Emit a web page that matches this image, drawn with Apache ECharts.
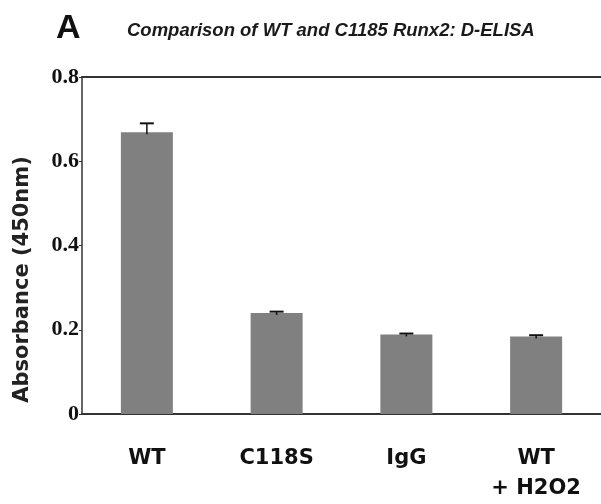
<!DOCTYPE html>
<html>
<head>
<meta charset="utf-8">
<script src="https://cdn.jsdelivr.net/npm/echarts@6/dist/echarts.min.js"></script>
<style>
  html, body, #main { margin: 0; padding: 0; width: 601px; height: 504px; overflow: hidden; background: #fff; }
</style>
</head>
<body>
<div id="main"></div>
<script>
// 数据
const categories = ["WT", "C118S", "IgG", "WT\n+ H2O2"];
const values = [0.669, 0.240, 0.189, 0.184];
const errors = [0.021, 0.003, 0.002, 0.003];
const yTicks = [0, 0.2, 0.4, 0.6, 0.8];

let myChart = echarts.init(document.getElementById("main"));

myChart.setOption({
  animation: false,
  backgroundColor: "#fff",
  graphic: [
    {
      type: "text", left: 56, top: 12,
      style: { text: "A", font: "bold 34px 'Liberation Sans', Arial", fill: "#111" }
    },
    {
      type: "text", left: 127, top: 21,
      style: { text: "Comparison of WT and C1185 Runx2: D-ELISA", font: "italic bold 18.5px 'Liberation Sans', Arial", fill: "#1a1a1a" }
    }
  ],
  grid: { left: 82, top: 77, width: 524, height: 340 },
  xAxis: [
    {
      type: "category",
      data: categories,
      axisLine: { lineStyle: { color: "#333", width: 2 } },
      axisTick: { show: false },
      axisLabel: {
        margin: 30,
        lineHeight: 30,
        color: "#111",
        fontFamily: "DejaVu Sans",
        fontWeight: "bold",
        fontSize: 21
      }
    },
    {
      // 顶部的横线
      type: "category",
      position: "top",
      data: categories,
      axisLine: { lineStyle: { color: "#333", width: 2 } },
      axisTick: { show: false },
      axisLabel: { show: false }
    }
  ],
  yAxis: {
    type: "value",
    min: yTicks[0],
    max: yTicks[yTicks.length - 1],
    interval: 0.2,
    name: "Absorbance (450nm)",
    nameLocation: "middle",
    nameGap: 49,
    nameTextStyle: {
      color: "#222",
      fontFamily: "DejaVu Sans",
      fontWeight: "bold",
      fontSize: 21,
      padding: [0, 68, 0, 0]
    },
    axisLine: { show: true, lineStyle: { color: "#333", width: 1.5 } },
    axisTick: { show: true, length: 3, lineStyle: { color: "#333" } },
    splitLine: { show: false },
    axisLabel: {
      margin: 3,
      color: "#111",
      fontFamily: "Liberation Serif",
      fontWeight: "bold",
      fontSize: 22,
      formatter: function (v) { return v === 0 ? "0" : v.toFixed(1); }
    }
  },
  series: [
    {
      type: "bar",
      data: values,
      barWidth: 52,
      itemStyle: { color: "#808080" },
      z: 2
    },
    {
      // 误差线
      type: "custom",
      data: values.map((v, i) => [i, v, errors[i]]),
      renderItem: function (params, api) {
        const x = api.value(0);
        const top = api.coord([x, api.value(1) + api.value(2)]);
        const base = api.coord([x, api.value(1)]);
        const half = 7;
        return {
          type: "group",
          children: [
            { type: "line", shape: { x1: top[0], y1: top[1], x2: base[0], y2: base[1] + 2 }, style: { stroke: "#111", lineWidth: 1.5 } },
            { type: "line", shape: { x1: top[0] - half, y1: top[1], x2: top[0] + half, y2: top[1] }, style: { stroke: "#111", lineWidth: 2 } }
          ]
        };
      },
      z: 3
    }
  ]
});

window.onresize = myChart.resize;
</script>
</body>
</html>
